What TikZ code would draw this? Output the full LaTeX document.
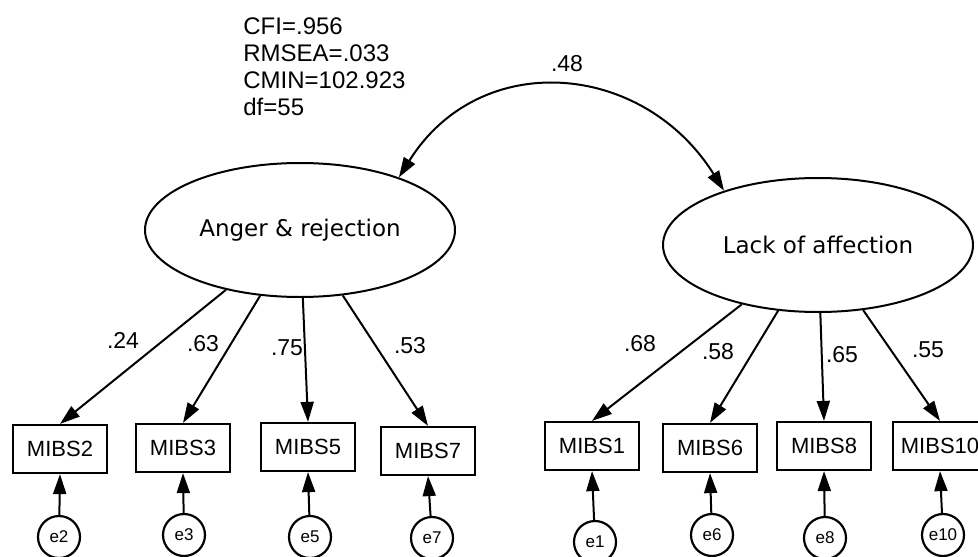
\documentclass[tikz,border=0pt]{standalone}
\usepackage{fontspec}
\setmainfont{Liberation Sans}
\newfontfamily\latentfont{DejaVu Sans}
\usetikzlibrary{shapes.geometric,arrows.meta,positioning}

\tikzset{
  latent/.style={ellipse, draw, line width=1pt, minimum width=155pt,
    minimum height=67pt, inner sep=0pt,
    font=\latentfont\fontsize{11.5}{13}\selectfont},
  observed/.style={rectangle, draw, line width=1.1pt, minimum width=47pt,
    minimum height=24pt, inner sep=0pt, font=\fontsize{11}{13}\selectfont},
  residual/.style={circle, draw, line width=1.1pt, minimum size=21pt,
    inner sep=0pt, font=\fontsize{8.5}{10}\selectfont},
  coef/.style={inner sep=0pt, font=\fontsize{11.5}{13}\selectfont},
  loading/.style={line width=1pt, -{Triangle[length=10pt,width=6.5pt]}},
  covar/.style={line width=1pt,
    {Triangle[length=10pt,width=6.5pt]}-{Triangle[length=10pt,width=6.5pt]}},
}

\begin{document}
\begin{tikzpicture}[x=0.5pt, y=-0.5pt]
  \clip (0,0) rectangle (978,556);

  \node [inner sep=0pt, anchor=north west, align=left,
    font=\fontsize{12}{13.5}\selectfont] (fit) at (243,17)
    {CFI=.956\\RMSEA=.033\\CMIN=102.923\\df=55};

  % factors
  \node [latent] (anger) at (300,230) {Anger \& rejection};
  \node [latent] (lack) at (818,245) {Lack of affection};

  % indicators
  \node [observed] (mibs2) at (60,449) {MIBS2};
  \node [observed] (mibs3) at (183,448) {MIBS3};
  \node [observed] (mibs5) at (308,447) {MIBS5};
  \node [observed] (mibs7) at (428,451) {MIBS7};
  \node [observed] (mibs1) at (592,446) {MIBS1};
  \node [observed] (mibs6) at (710,448) {MIBS6};
  \node [observed] (mibs8) at (824,446) {MIBS8};
  \node [observed] (mibs10) at (940,446) {MIBS10};

  % errors
  \node [residual] (e2) at (59,537) {e2};
  \node [residual] (e3) at (184,535) {e3};
  \node [residual] (e5) at (310,537) {e5};
  \node [residual] (e7) at (432,538) {e7};
  \node [residual] (e1) at (595,542) {e1};
  \node [residual] (e6) at (712,535) {e6};
  \node [residual] (e8) at (825,538) {e8};
  \node [residual] (e10) at (943,535) {e10};

  \draw [covar] (anger.28) to [out=58, in=122, looseness=1.2] (lack.150);
  \node [coef] (r) at (567,64) {.48};

  \draw [loading] (anger) -- (mibs2.north);
  \draw [loading] (anger) -- (mibs3.north);
  \draw [loading] (anger) -- (mibs5.north);
  \draw [loading] (anger) -- (mibs7.north);
  \draw [loading] (lack) -- (mibs1.north);
  \draw [loading] (lack) -- (mibs6.north);
  \draw [loading] (lack) -- (mibs8.north);
  \draw [loading] (lack) -- (mibs10.north);

  \node [coef] (l2) at (123,340) {.24};
  \node [coef] (l3) at (203,344) {.63};
  \node [coef] (l5) at (287,348) {.75};
  \node [coef] (l7) at (410,346) {.53};
  \node [coef] (l1) at (640,344) {.68};
  \node [coef] (l6) at (718,352) {.58};
  \node [coef] (l8) at (842,355) {.65};
  \node [coef] (l10) at (928,350) {.55};

  \draw [loading] (e2) -- (mibs2.south);
  \draw [loading] (e3) -- (mibs3.south);
  \draw [loading] (e5) -- (mibs5.south);
  \draw [loading] (e7) -- (mibs7.south);
  \draw [loading] (e1) -- (mibs1.south);
  \draw [loading] (e6) -- (mibs6.south);
  \draw [loading] (e8) -- (mibs8.south);
  \draw [loading] (e10) -- (mibs10.south);
\end{tikzpicture}
\end{document}
